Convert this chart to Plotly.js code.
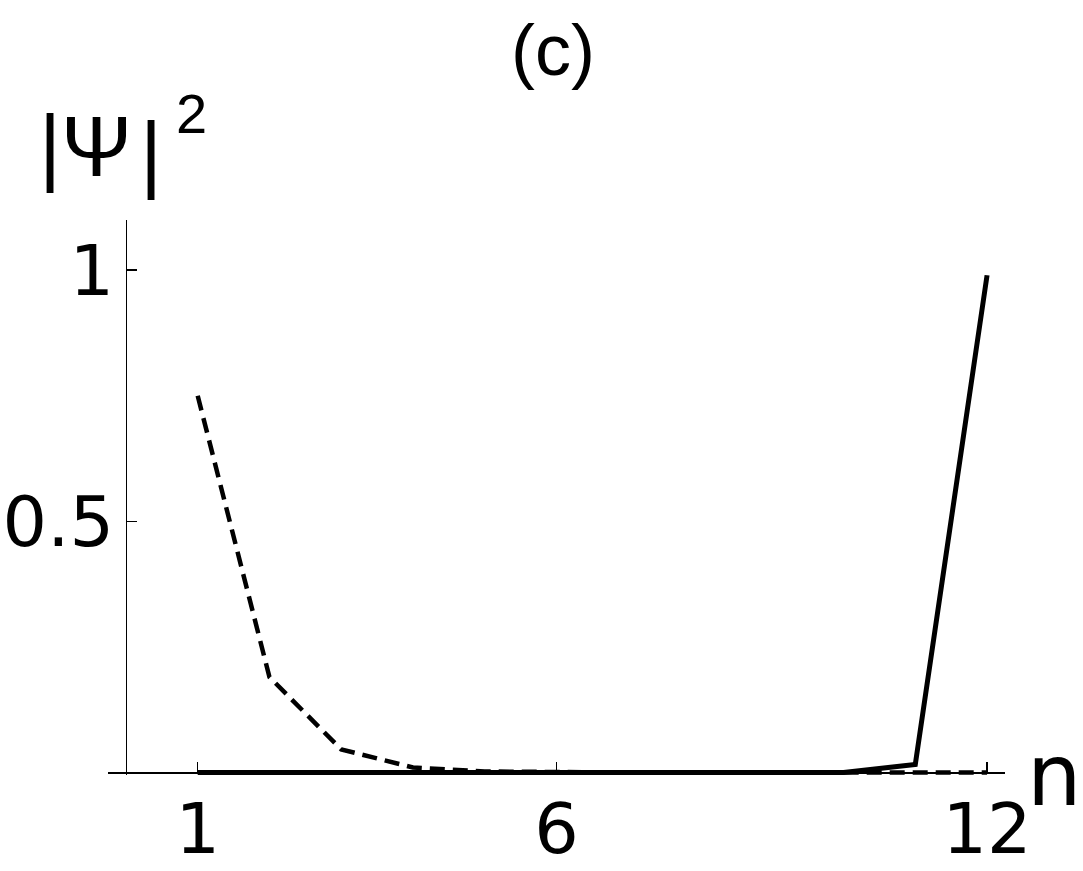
<!DOCTYPE html>
<html>
<head>
<meta charset="utf-8">
<script src="https://cdn.plot.ly/plotly-3.0.1.min.js"></script>
<style>
  html, body { margin: 0; padding: 0; background: #fff; }
  #chart { width: 1083px; height: 871px; }
</style>
</head>
<body>
<div id="chart"></div>
<script>
// site index n and |psi|^2 for the two states
const sites = [1, 2, 3, 4, 5, 6, 7, 8, 9, 10, 11, 12];
const psiDashed = [0.75, 0.19, 0.046, 0.01, 0.002, 0, 0, 0, 0, 0, 0, 0];
const psiSolid = [0, 0, 0, 0, 0, 0, 0, 0, 0, 0, 0.016, 0.99];

const xTicks = [1, 6, 12];
const xTickText = ['1', '6', '12'];
const yTicks = [0.5, 1];
const yTickText = ['0.5', '1'];

const traces = [
  {
    x: sites,
    y: psiDashed,
    type: 'scatter',
    mode: 'lines',
    line: { color: '#000', width: 4.5, dash: '15px,8px' },
    hoverinfo: 'skip'
  },
  {
    x: sites,
    y: psiSolid,
    type: 'scatter',
    mode: 'lines',
    line: { color: '#000', width: 5 },
    hoverinfo: 'skip'
  }
];

const xRange = [-0.25, 12.25];
const yRange = [-0.005, 1.1];

// pieces of the y label |Ψ|²
const labelFont = { family: 'Liberation Sans', size: 85, color: '#000' };

function piece(text, x, y, font) {
  return {
    text: text, xref: 'paper', yref: 'paper', x: x, y: y,
    xanchor: 'center', yanchor: 'middle', showarrow: false,
    borderpad: 0, font: font
  };
}

const layout = {
  width: 1083,
  height: 871,
  margin: { l: 108, r: 78, t: 220, b: 96 },
  paper_bgcolor: '#fff',
  plot_bgcolor: '#fff',
  showlegend: false,
  xaxis: {
    range: xRange,
    anchor: 'free',
    position: (0 - yRange[0]) / (yRange[1] - yRange[0]),
    showline: true,
    linecolor: '#000',
    linewidth: 1.5,
    showgrid: false,
    zeroline: false,
    ticks: 'inside',
    ticklen: 10,
    tickwidth: 1.5,
    tickcolor: '#000',
    tickvals: xTicks,
    ticktext: xTickText,
    ticklabelstandoff: -5,
    tickfont: { family: 'DejaVu Sans', size: 70, color: '#000' }
  },
  yaxis: {
    range: yRange,
    anchor: 'free',
    position: (0 - xRange[0]) / (xRange[1] - xRange[0]),
    showline: true,
    linecolor: '#000',
    linewidth: 1.5,
    showgrid: false,
    zeroline: false,
    ticks: 'inside',
    ticklen: 10,
    tickwidth: 1.5,
    tickcolor: '#000',
    tickvals: yTicks,
    ticktext: yTickText,
    ticklabelstandoff: -2,
    tickfont: { family: 'DejaVu Sans', size: 70, color: '#000' }
  },
  annotations: [
    {
      text: '(c)', xref: 'paper', yref: 'paper', x: 0.496, y: 1.306,
      xanchor: 'center', yanchor: 'middle', showarrow: false,
      font: { family: 'Liberation Sans', size: 72, color: '#000' }
    },
    piece('|', -0.0647, 1.135, labelFont),
    piece('\u03A8', -0.0128, 1.133, labelFont),
    piece('|', 0.0479, 1.121, labelFont),
    piece('2', 0.0931, 1.191, { family: 'Liberation Sans', size: 56, color: '#000' }),
    {
      text: 'n', xref: 'paper', yref: 'paper', x: 1.022, y: 0.0,
      xanchor: 'left', yanchor: 'middle', showarrow: false,
      font: { family: 'DejaVu Sans', size: 86, color: '#000' }
    }
  ]
};

Plotly.newPlot('chart', traces, layout, { displayModeBar: false, staticPlot: true });
</script>
</body>
</html>
